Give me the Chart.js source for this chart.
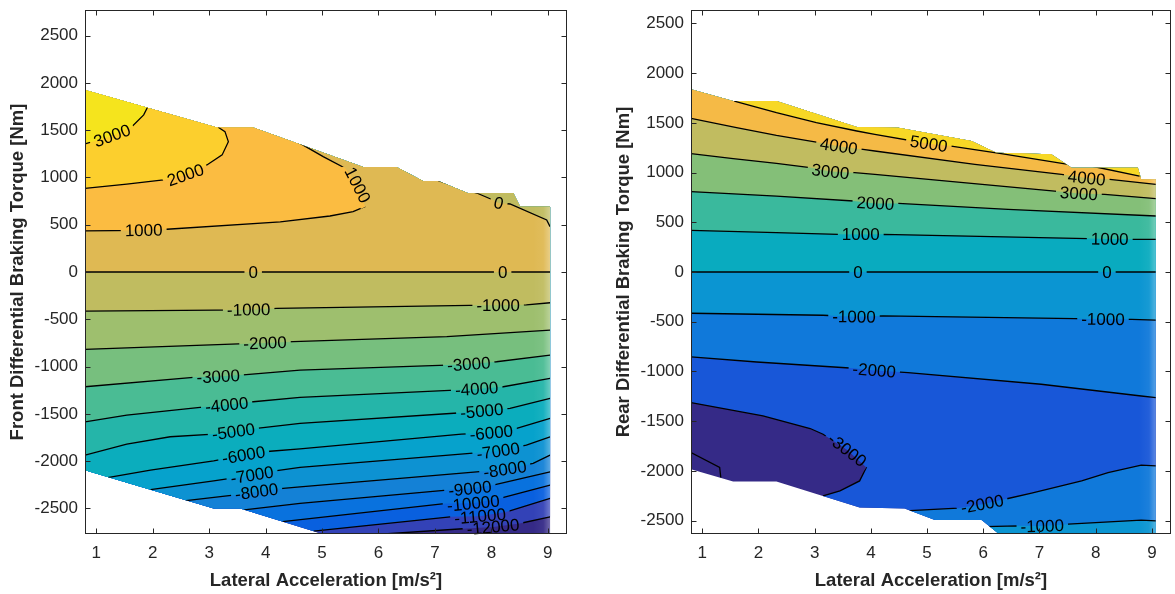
<!DOCTYPE html>
<html>
<head>
<meta charset="utf-8">
<script src="https://cdn.jsdelivr.net/npm/chart.js@4.4.1/dist/chart.umd.min.js"></script>
<style>
  html, body { margin: 0; padding: 0; background: #fff; }
  #wrap { position: relative; width: 1175px; height: 594px; }
  canvas { position: absolute; top: 0; }
  #front { left: 0; }
  #rear { left: 606px; }
</style>
</head>
<body>
<div id="wrap">
  <canvas id="front" width="606" height="594"></canvas>
  <canvas id="rear" width="569" height="594"></canvas>
</div>
<script>
// axis ticks
const accelTicks = [1, 2, 3, 4, 5, 6, 7, 8, 9];
const torqueTicks = [-2500, -2000, -1500, -1000, -500, 0, 500, 1000, 1500, 2000, 2500];

// ---------- front differential ----------
// outline of the region that has data [lateral accel, torque]
const frontDomain = [[0.8,1925],[3.14,1527],[3.78,1527],[5.73,1110],[6.32,1110],[6.79,963],[7.06,963],
  [7.59,832],[8.39,832],[8.51,691],[9.04,691],[9.04,-2900],[5.71,-2900],[3.55,-2500],[3.08,-2500],[0.8,-2095]];

// contour paths
const fP3000 = [[0.8,1354],[1.28,1441],[1.63,1537],[1.84,1661],[1.91,1745]];
const fP2000 = [[0.8,885],[1.54,930],[2.19,973],[2.58,1026],[2.96,1132],[3.23,1238],[3.34,1378],[3.28,1484],[3.16,1530]];
const fP1000 = [[0.8,434],[1.84,441],[2.25,452],[4.26,530],[5.14,592],[5.55,638],[5.76,691],[5.63,920],[5.41,1097],[5.02,1220],[4.58,1370]];
const f0 = [[0.8,0],[3.78,0],[8.2,0],[9.04,0]];
const f0top = [[7.06,965],[7.38,902],[7.74,835],[8.03,761],[8.13,730],[8.33,719],[8.98,550],[9.04,480]];
const fM1000 = [[0.8,-413],[3.7,-400],[4.2,-384],[7.62,-352],[8.12,-352],[8.62,-347],[9.04,-325]];
const fM2000 = [[0.8,-818],[3.52,-760],[3.99,-750],[4.49,-737],[7.21,-684],[9.04,-614]];
const fM3000 = [[0.8,-1213],[2.72,-1114],[3.16,-1105],[3.55,-1090],[4.61,-1037],[7.21,-984],[7.6,-975],[8.09,-949],[9.04,-878]];
const fM4000 = [[0.8,-1584],[1.54,-1513],[2.84,-1431],[3.31,-1405],[3.78,-1372],[4.61,-1326],[7.35,-1248],[7.74,-1236],[8.21,-1213],[9.04,-1125]];
const fM5000 = [[0.8,-1936],[1.54,-1820],[2.31,-1742],[3.08,-1714],[3.43,-1689],[3.84,-1654],[4.61,-1601],[7.47,-1488],[7.83,-1470],[8.33,-1442],[9.04,-1336]];
const fM6000 = [[1.2,-2175],[1.96,-2095],[3.08,-1996],[3.61,-1936],[4.08,-1895],[4.61,-1870],[7.47,-1714],[8.0,-1700],[8.39,-1664],[9.04,-1548]];
const fM7000 = [[1.96,-2301],[3.08,-2208],[3.76,-2148],[4.2,-2100],[4.61,-2066],[7.62,-1918],[8.12,-1894],[8.62,-1830],[9.04,-1742]];
const fM8000 = [[2.55,-2420],[3.43,-2359],[3.84,-2324],[4.31,-2288],[4.61,-2271],[7.74,-2113],[8.24,-2087],[8.74,-2024],[9.04,-1936]];
const fM9000 = [[3.62,-2515],[4.61,-2447],[7.21,-2306],[7.62,-2290],[8.03,-2253],[9.04,-2113]];
const fM10000 = [[4.3,-2640],[7.21,-2447],[7.68,-2445],[8.15,-2394],[9.04,-2253]];
const fM11000 = [[4.85,-2740],[7.27,-2588],[7.8,-2582],[8.27,-2535],[9.04,-2394]];
const fM12000 = [[5.5,-2830],[6.03,-2772],[7.56,-2712],[8.03,-2695],[8.5,-2659],[9.04,-2588]];

// inline labels [accel, torque, level]
const frontLabels = [[1.28,1441,3000],[2.58,1026,2000],[1.84,441,1000],[5.63,920,1000],[3.78,0,0],[8.2,0,0],[8.13,730,0],
  [3.7,-400,-1000],[8.12,-352,-1000],[3.99,-750,-2000],[3.16,-1105,-3000],[7.6,-975,-3000],[3.31,-1405,-4000],[7.74,-1236,-4000],
  [3.43,-1689,-5000],[7.83,-1470,-5000],[3.61,-1936,-6000],[8.0,-1700,-6000],[3.76,-2148,-7000],[8.12,-1894,-7000],
  [3.84,-2324,-8000],[8.24,-2087,-8000],[7.62,-2290,-9000],[7.68,-2445,-10000],[7.8,-2582,-11000],[8.03,-2695,-12000]];

// ---------- rear differential ----------
const rearDomain = [[0.8,1837],[1.55,1719],[2.32,1719],[3.75,1458],[4.49,1452],[5.79,1317],[6.23,1200],[7.21,1183],
  [7.57,1049],[8.75,1049],[8.81,932],[9.07,932],[9.07,-2900],[6.86,-2900],[6.29,-2640],[5.97,-2493],[5.14,-2493],
  [4.6,-2378],[3.8,-2369],[2.32,-2107],[1.55,-2107],[0.8,-1983]];

const rP5000 = [[1.57,1719],[2.32,1602],[3.03,1502],[3.75,1418],[4.07,1384],[5.03,1290],[5.43,1267],[6.32,1190],[7.51,1083],[7.92,1066],[8.78,965]];
const rP4000 = [[0.8,1545],[1.61,1452],[2.32,1374],[3.03,1307],[3.43,1265],[3.86,1233],[4.07,1217],[5.85,1083],[7.39,982],[7.84,945],[8.25,932],[9.07,882]];
const rP3000 = [[0.8,1190],[1.55,1140],[2.32,1093],[2.92,1050],[3.28,1010],[3.71,999],[4.07,982],[7.27,814],[7.7,790],[8.16,781],[9.07,738]];
const rP2000 = [[0.8,808],[2.32,764],[3.69,714],[4.08,690],[4.49,690],[6.44,630],[9.07,563]];
const rP1000 = [[0.8,419],[2.32,396],[3.42,379],[3.82,376],[4.22,379],[7.86,336],[8.25,332],[8.66,329],[9.07,329]];
const r0 = [[0.8,0],[3.77,0],[8.2,0],[9.07,0]];
const rM1000 = [[0.8,-415],[3.15,-435],[3.7,-450],[4.22,-442],[7.63,-469],[8.13,-475],[8.64,-476],[9.07,-483]];
const rM2000 = [[0.8,-854],[1.97,-905],[3.69,-968],[4.06,-990],[4.66,-1011],[7.03,-1129],[8.81,-1247],[9.07,-1263]];
const rM3000 = [[0.8,-1313],[2.08,-1448],[2.92,-1574],[3.15,-1632],[3.58,-1790],[3.92,-1966],[3.8,-2101],[3.45,-2202],[3.15,-2252]];
const rM4000 = [[0.8,-1816],[1.31,-1966],[1.33,-2067]];
const rM2000low = [[4.69,-2400],[5.55,-2375],[5.98,-2335],[6.44,-2278],[6.86,-2225],[7.75,-2101],[8.22,-2017],[8.81,-1943],[9.07,-1950]];
const rM1000low = [[6.03,-2560],[6.62,-2553],[7.05,-2555],[7.51,-2536],[8.81,-2496],[9.07,-2503]];

const rearLabels = [[5.03,1290,5000],[3.43,1265,4000],[7.84,945,4000],[3.28,1010,3000],[7.7,790,3000],[4.08,690,2000],
  [3.82,376,1000],[8.25,332,1000],[3.77,0,0],[8.2,0,0],[3.7,-450,-1000],[8.13,-475,-1000],[4.06,-990,-2000],
  [3.58,-1790,-3000],[5.98,-2335,-2000],[7.05,-2555,-1000]];

// parula colormap, 64 steps
const parula = [[53,42,135],[54,48,147],[54,55,160],[53,61,173],[50,67,186],[44,74,199],[32,83,212],[15,92,221],
  [3,99,225],[2,104,225],[4,109,224],[8,113,222],[13,117,220],[16,121,218],[18,125,216],[20,129,214],
  [20,133,212],[19,137,211],[16,142,210],[12,147,210],[9,152,209],[7,156,207],[6,160,205],[6,164,202],
  [6,167,198],[7,169,194],[10,172,190],[15,174,185],[21,177,180],[29,179,175],[37,181,169],[46,183,164],
  [56,185,158],[66,187,152],[77,188,146],[89,189,140],[101,190,134],[113,191,128],[124,191,123],[135,191,119],
  [146,191,115],[156,191,111],[165,190,107],[174,190,103],[183,189,100],[192,188,96],[200,188,93],[209,187,89],
  [217,186,86],[225,185,82],[233,185,78],[241,185,74],[248,186,68],[253,190,61],[255,195,55],[254,200,50],
  [252,206,46],[250,211,42],[247,216,38],[245,222,33],[245,228,29],[246,235,24],[248,242,19],[249,251,14]];

function bandColor(caxis, level) {
  let t = (level - caxis[0]) / (caxis[1] - caxis[0]);
  t = Math.max(0, Math.min(1, t)) * 63;
  const i = Math.min(62, Math.floor(t)), f = t - i;
  const a = parula[i], b = parula[i + 1];
  return 'rgb(' + [0, 1, 2].map(k => Math.round(a[k] + (b[k] - a[k]) * f)).join(',') + ')';
}

// ways to close a contour into the region on its high side
const XL = -5, XR = 15, LO = -10000, HI = 10000;
function closeUp(p) {
  const a = p[0], b = p[p.length - 1];
  return [[XR, b[1]], [XR, HI], [XL, HI], [XL, a[1]]];
}
function closeUpFromStart(p) {
  const a = p[0], b = p[p.length - 1];
  return [[XR, b[1]], [XR, HI], [a[0], HI]];
}
function closeDownFromStart(p) {
  const a = p[0], b = p[p.length - 1];
  return [[XR, b[1]], [XR, LO], [a[0], LO]];
}
function closeAround(p) {
  const a = p[0], b = p[p.length - 1];
  return [[b[0], LO], [XR, LO], [XR, HI], [XL, HI], [XL, a[1]]];
}

const frontSpec = {
  caxis: [-13000, 3800],
  base: -13000,
  domain: frontDomain,
  edge: 9.04,
  lines: [[-12000, fM12000], [-11000, fM11000], [-10000, fM10000], [-9000, fM9000], [-8000, fM8000],
    [-7000, fM7000], [-6000, fM6000], [-5000, fM5000], [-4000, fM4000], [-3000, fM3000], [-2000, fM2000],
    [-1000, fM1000], [0, f0], [1000, fP1000], [2000, fP2000], [3000, fP3000], [0, f0top]],
  fills: [],
  labels: frontLabels
};
frontSpec.lines.slice(0, 16).forEach(([lev, pts]) => frontSpec.fills.push({ pts: pts, band: lev, close: closeUp }));
frontSpec.fills.push({ pts: f0top, band: -1000, close: closeUpFromStart });

const rearSpec = {
  caxis: [-4000, 5770],
  base: -4000,
  domain: rearDomain,
  edge: 9.07,
  lines: [[-4000, rM4000], [-3000, rM3000], [-2000, rM2000], [-2000, rM2000low], [-1000, rM1000], [-1000, rM1000low],
    [0, r0], [1000, rP1000], [2000, rP2000], [3000, rP3000], [4000, rP4000], [5000, rP5000]],
  fills: [
    { pts: rM3000, band: -3000, close: closeAround },
    { pts: rM2000, band: -2000, close: closeUp },
    { pts: rM2000low, band: -2000, close: closeDownFromStart },
    { pts: rM1000, band: -1000, close: closeUp },
    { pts: rM1000low, band: -1000, close: closeDownFromStart },
    { pts: r0, band: 0, close: closeUp },
    { pts: rP1000, band: 1000, close: closeUp },
    { pts: rP2000, band: 2000, close: closeUp },
    { pts: rP3000, band: 3000, close: closeUp },
    { pts: rP4000, band: 4000, close: closeUp },
    { pts: rP5000, band: 5000, close: closeUpFromStart }
  ],
  labels: rearLabels
};

const FONT = "'Liberation Sans', Arial, Helvetica, sans-serif";
const AXIS_COLOR = '#262626';

function trace(ctx, sx, sy, pts) {
  ctx.beginPath();
  pts.forEach(([vx, vy], i) => {
    const px = sx.getPixelForValue(vx), py = sy.getPixelForValue(vy);
    if (i === 0) ctx.moveTo(px, py); else ctx.lineTo(px, py);
  });
  ctx.closePath();
}

function contourPlugin(spec) {
  let placed = [];
  return {
    id: 'contour',
    beforeDatasetsDraw(chart) {
      const { ctx, chartArea: a, scales: { x, y } } = chart;
      ctx.save();
      ctx.beginPath();
      ctx.rect(a.left, a.top, a.width, a.height);
      ctx.clip();
      trace(ctx, x, y, spec.domain);
      ctx.clip();
      ctx.fillStyle = bandColor(spec.caxis, spec.base);
      ctx.fillRect(a.left, a.top, a.width, a.height);
      spec.fills.forEach(f => {
        trace(ctx, x, y, f.pts.concat(f.close(f.pts)));
        ctx.fillStyle = bandColor(spec.caxis, f.band);
        ctx.fill();
      });
      // the patch edges bunch up near the last column and wash it out
      const x0 = x.getPixelForValue(spec.edge - 0.3), x1 = x.getPixelForValue(spec.edge);
      const g = ctx.createLinearGradient(x0, 0, x1, 0);
      g.addColorStop(0, 'rgba(255,255,255,0)');
      g.addColorStop(0.6, 'rgba(255,255,255,0.05)');
      g.addColorStop(1, 'rgba(255,255,255,0.3)');
      ctx.fillStyle = g;
      ctx.fillRect(x0, a.top, x1 - x0 + 1, a.height);
      ctx.restore();

      // label centres and angles follow their own contour
      ctx.font = '17px ' + FONT;
      placed = spec.labels.map(([lx, ly, lev]) => {
        let best = null, bestD = Infinity;
        spec.lines.forEach(([l, pts]) => {
          if (l !== lev) return;
          pts.forEach((p, i) => {
            const d = Math.hypot(p[0] - lx, (p[1] - ly) / 1000);
            if (d < bestD) { bestD = d; best = { pts, i }; }
          });
        });
        const p0 = best.pts[Math.max(0, best.i - 1)], p1 = best.pts[Math.min(best.pts.length - 1, best.i + 1)];
        let ang = Math.atan2(y.getPixelForValue(p1[1]) - y.getPixelForValue(p0[1]),
                             x.getPixelForValue(p1[0]) - x.getPixelForValue(p0[0]));
        if (ang > Math.PI / 2) ang -= Math.PI;
        if (ang < -Math.PI / 2) ang += Math.PI;
        const text = String(lev);
        return { px: x.getPixelForValue(lx), py: y.getPixelForValue(ly), ang, text, w: ctx.measureText(text).width };
      });
    },
    beforeDatasetDraw(chart) {
      const { ctx, scales: { x, y } } = chart;
      ctx.save();
      trace(ctx, x, y, spec.domain);
      ctx.clip();
      // break the lines where the labels sit
      ctx.beginPath();
      ctx.rect(0, 0, chart.width, chart.height);
      placed.forEach(l => {
        const hw = l.w / 2 + 4, hh = 8;
        const c = Math.cos(l.ang), s = Math.sin(l.ang);
        const corners = [[-hw, -hh], [hw, -hh], [hw, hh], [-hw, hh]];
        corners.forEach(([u, v], i) => {
          const px = l.px + u * c - v * s, py = l.py + u * s + v * c;
          if (i === 0) ctx.moveTo(px, py); else ctx.lineTo(px, py);
        });
        ctx.closePath();
      });
      ctx.clip('evenodd');
    },
    afterDatasetDraw(chart) {
      chart.ctx.restore();
    },
    afterDatasetsDraw(chart) {
      const ctx = chart.ctx;
      ctx.save();
      ctx.font = '17px ' + FONT;
      ctx.fillStyle = '#000';
      ctx.textAlign = 'center';
      ctx.textBaseline = 'middle';
      placed.forEach(l => {
        ctx.save();
        ctx.translate(l.px, l.py);
        ctx.rotate(l.ang);
        ctx.fillText(l.text, 0, 1);
        ctx.restore();
      });
      ctx.restore();
    },
    afterDraw(chart) {
      const { ctx, chartArea: a, scales: { x, y } } = chart;
      const L = Math.round(a.left) + 0.5, R = Math.round(a.right) - 0.5;
      const T = Math.round(a.top) + 0.5, B = Math.round(a.bottom) - 0.5;
      ctx.save();
      ctx.strokeStyle = AXIS_COLOR;
      ctx.lineWidth = 1;
      ctx.beginPath();
      accelTicks.forEach(v => {
        const px = Math.round(x.getPixelForValue(v)) + 0.5;
        ctx.moveTo(px, B); ctx.lineTo(px, B - 5);
        ctx.moveTo(px, T); ctx.lineTo(px, T + 5);
      });
      torqueTicks.forEach(v => {
        const py = Math.round(y.getPixelForValue(v)) + 0.5;
        ctx.moveTo(L, py); ctx.lineTo(L + 5, py);
        ctx.moveTo(R, py); ctx.lineTo(R - 5, py);
      });
      ctx.stroke();
      ctx.strokeRect(L, T, R - L, B - T);
      ctx.restore();
    }
  };
}

function makeChart(id, spec, yTitle, yLimit, rightPad) {
  return new Chart(document.getElementById(id), {
    type: 'line',
    data: {
      datasets: spec.lines.map(([lev, pts]) => ({
        label: String(lev),
        data: pts.map(([vx, vy]) => ({ x: vx, y: vy })),
        borderColor: '#000',
        borderWidth: 1.3,
        pointRadius: 0,
        pointHoverRadius: 0,
        tension: 0,
        fill: false
      }))
    },
    options: {
      responsive: false,
      animation: false,
      events: [],
      layout: { padding: { left: 0, right: rightPad, top: 10, bottom: 0 } },
      plugins: { legend: { display: false }, tooltip: { enabled: false } },
      scales: {
        x: {
          type: 'linear', min: 0.8, max: 9.34,
          afterBuildTicks: s => { s.ticks = accelTicks.map(v => ({ value: v })); },
          afterFit: s => { s.height = 60; s.paddingLeft = 0; s.paddingRight = 0; },
          grid: { display: false, drawTicks: false },
          border: { display: false },
          ticks: { padding: 9, color: AXIS_COLOR, font: { family: FONT, size: 17 }, maxRotation: 0, autoSkip: false, callback: v => String(v) },
          title: { display: true, text: 'Lateral Acceleration [m/s²]', color: AXIS_COLOR,
                   font: { family: FONT, size: 18.5, weight: 'bold' }, padding: { top: 0, bottom: 2 } }
        },
        y: {
          type: 'linear', min: -yLimit, max: yLimit,
          afterBuildTicks: s => { s.ticks = torqueTicks.map(v => ({ value: v })); },
          afterFit: s => { s.width = 85; s.paddingTop = 0; s.paddingBottom = 0; },
          grid: { display: false, drawTicks: false },
          border: { display: false },
          ticks: { padding: 7, color: AXIS_COLOR, font: { family: FONT, size: 17 }, autoSkip: false, callback: v => String(v) },
          title: { display: true, text: yTitle, color: AXIS_COLOR,
                   font: { family: FONT, size: 18.5, weight: 'bold' }, padding: { top: 7, bottom: 0 } }
        }
      }
    },
    plugins: [contourPlugin(spec)]
  });
}

makeChart('front', frontSpec, 'Front Differential Braking Torque [Nm]', 2770, 39);
makeChart('rear', rearSpec, 'Rear Differential Braking Torque [Nm]', 2635, 4);
</script>
</body>
</html>
